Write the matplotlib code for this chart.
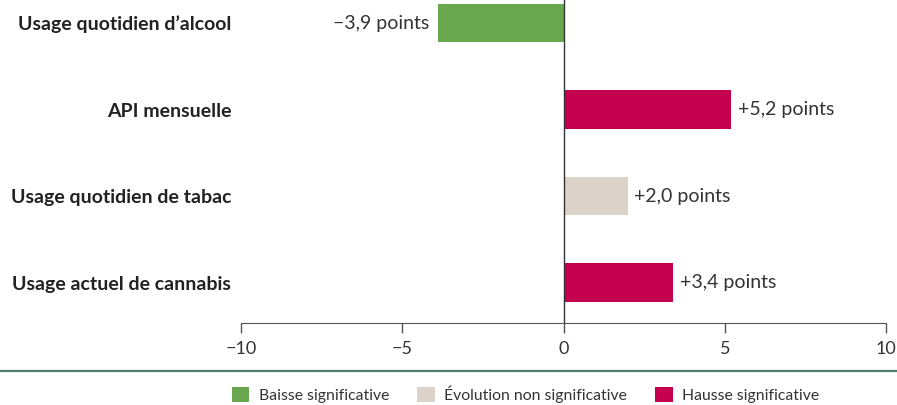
import matplotlib
matplotlib.use('Agg')
import matplotlib.pyplot as plt
from matplotlib.patches import Patch
from matplotlib.lines import Line2D

# données
categories = ["Usage quotidien d\u2019alcool", "API mensuelle",
              "Usage quotidien de tabac", "Usage actuel de cannabis"]
valeurs = [-3.9, 5.2, 2.0, 3.4]
etiquettes = ["\u22123,9 points", "+5,2 points", "+2,0 points", "+3,4 points"]
statut = ["baisse", "hausse", "ns", "hausse"]
ticks = [-10, -5, 0, 5, 10]
tick_labels = ["\u221210", "\u22125", "0", "5", "10"]

couleurs = {"baisse": "#6aa84f", "ns": "#dbd3c9", "hausse": "#c4004f"}
legende = [("baisse", "Baisse significative"),
           ("ns", "\u00c9volution non significative"),
           ("hausse", "Hausse significative")]

plt.rcParams['font.family'] = ['Lato', 'DejaVu Sans']

fig = plt.figure(figsize=(8.97, 4.05), dpi=100)
ax = fig.add_axes([241 / 897, 1 - 323 / 405, 645 / 897, 323 / 405])

y = list(range(len(categories)))
ax.barh(y, valeurs, height=0.44, color=[couleurs[s] for s in statut])
ax.axvline(0, color='#333333', lw=1)

for yi, v, lab in zip(y, valeurs, etiquettes):
    if v < 0:
        ax.text(v - 0.25, yi, lab, ha='right', va='center', fontsize=14, color='#333333')
    else:
        ax.text(v + 0.2, yi, lab, ha='left', va='center', fontsize=14, color='#333333')

ax.set_xlim(-10, 10)
ax.set_ylim(3.468, -0.266)
ax.set_xticks(ticks)
ax.set_xticklabels(tick_labels, fontsize=13, color='#333333')
ax.set_yticks(y)
ax.set_yticklabels(categories, fontsize=14, fontweight='bold', color='#222222')
ax.tick_params(axis='y', length=0, pad=7)
ax.tick_params(axis='x', length=7, color='#555555', width=1, pad=6)
for s in ['top', 'right', 'left']:
    ax.spines[s].set_visible(False)
ax.spines['bottom'].set_color('#555555')

# ligne de séparation
fig.add_artist(Line2D([0, 1], [1 - 371 / 405, 1 - 371 / 405], transform=fig.transFigure,
                      color='#4d7c71', lw=1.6))

handles = [Patch(facecolor=couleurs[k], edgecolor='none') for k, _ in legende]
fig.legend(handles, [l for _, l in legende], loc='center', bbox_to_anchor=(0.586, 1 - 394 / 405),
           ncol=3, frameon=False, fontsize=11.3, handlelength=1.1, handleheight=1.1,
           handletextpad=0.6, columnspacing=1.8, labelcolor='#333333')

fig.savefig('out.png', dpi=100)
